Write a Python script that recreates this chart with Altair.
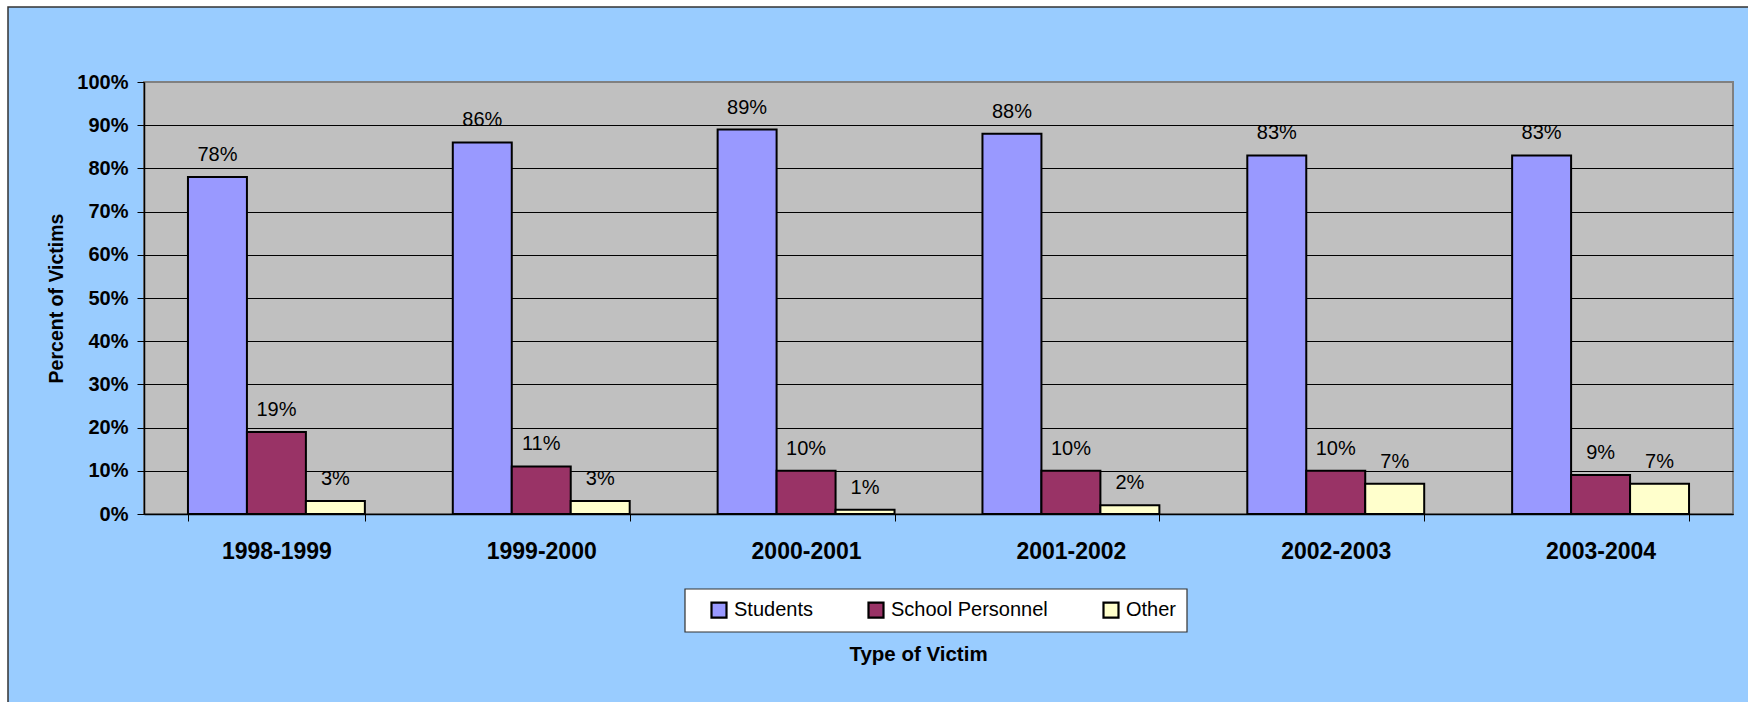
import altair as alt
import pandas as pd

# School years and share of victims by type (percent)
years = ["1998-1999", "1999-2000", "2000-2001", "2001-2002", "2002-2003", "2003-2004"]
series = ["Students", "School Personnel", "Other"]
students = [78, 86, 89, 88, 83, 83]
personnel = [19, 11, 10, 10, 10, 9]
other = [3, 3, 1, 2, 7, 7]
colors = ["#9999FF", "#993366", "#FFFFCC"]
y_ticks = [0, 10, 20, 30, 40, 50, 60, 70, 80, 90, 100]

rows = []
for name, vals in zip(series, [students, personnel, other]):
    for yr, v in zip(years, vals):
        rows.append({"year": yr, "type": name, "pct": v})
df = pd.DataFrame(rows)

FONT = "Liberation Sans, Arial, sans-serif"
W, H = 1589, 432

x_enc = alt.X(
    "year:N",
    sort=years,
    scale=alt.Scale(paddingInner=0.332, paddingOuter=0.166),
    axis=alt.Axis(
        title="Type of Victim",
        labelAngle=0,
        tickBand="extent",
        tickSize=7,
        tickColor="black",
        domainColor="black",
        domainWidth=1.5,
        labelFont=FONT,
        labelFontSize=23,
        labelFontWeight="bold",
        labelColor="black",
        labelPadding=19,
        titleFont=FONT,
        titleFontSize=20.5,
        titleFontWeight="bold",
        titleColor="black",
        titleX=774,
        titleY=146,
        titleBaseline="alphabetic",
        titleAlign="center",
        grid=False,
    ),
)
xoff_enc = alt.XOffset("type:N", sort=series, scale=alt.Scale(paddingInner=0, paddingOuter=0))
y_enc = alt.Y(
    "pct:Q",
    scale=alt.Scale(domain=[0, 100], nice=False),
    axis=alt.Axis(
        values=y_ticks,
        labelExpr="datum.value + '%'",
        grid=True,
        gridColor={"condition": {"test": "datum.value == 100", "value": "#808080"}, "value": "black"},
        gridWidth=1,
        domainColor="black",
        domainWidth=1.5,
        tickColor="black",
        tickSize=7,
        labelFont=FONT,
        labelFontSize=20,
        labelFontWeight="bold",
        labelColor="black",
        labelPadding=9,
        title="Percent of Victims",
        titleFont=FONT,
        titleFontSize=19.5,
        titleFontWeight="bold",
        titleColor="black",
        titleAngle=270,
        titleX=-82,
        titleY=216,
        titleBaseline="alphabetic",
        titleAlign="center",
    ),
)

# Decorative frame: white margin on the top/left edge with a dark outline
one = pd.DataFrame({"k": [0]})
frame_left = alt.Chart(one).mark_rect(fill="white").encode(
    x=alt.value(-144), x2=alt.value(-136), y=alt.value(-82), y2=alt.value(H + 188)
)
frame_top = alt.Chart(one).mark_rect(fill="white").encode(
    x=alt.value(-144), x2=alt.value(W + 15), y=alt.value(-82), y2=alt.value(-75)
)
frame_line = alt.Chart(one).mark_rect(fill="white", fillOpacity=0, stroke="#333333", strokeWidth=1.5).encode(
    x=alt.value(-136), x2=alt.value(W + 40), y=alt.value(-75), y2=alt.value(H + 220)
)
# White box behind the legend entries
legend_box = alt.Chart(one).mark_rect(fill="white", stroke="#333333", strokeWidth=1.2).encode(
    x=alt.value(541), x2=alt.value(1043), y=alt.value(507), y2=alt.value(550)
)

bars = alt.Chart(df).mark_bar(stroke="black", strokeWidth=2).encode(
    x=x_enc,
    xOffset=xoff_enc,
    y=y_enc,
    color=alt.Color(
        "type:N",
        sort=series,
        scale=alt.Scale(domain=series, range=colors),
        legend=alt.Legend(
            orient="none",
            legendX=565,
            legendY=518,
            direction="horizontal",
            title=None,
            symbolType="square",
            symbolSize=225,
            symbolStrokeColor="black",
            symbolStrokeWidth=2.2,
            symbolOpacity=1,
            labelFont=FONT,
            labelFontSize=20,
            labelColor="black",
            labelOffset=5,
            columnPadding=51,
            padding=0,
        ),
    ),
)

labels = alt.Chart(df).mark_text(
    dy=-22, baseline="middle", align="center", font=FONT, fontSize=20, color="black"
).encode(
    x=alt.X("year:N", sort=years),
    xOffset=alt.XOffset("type:N", sort=series),
    y=alt.Y("pct:Q"),
    text=alt.Text("label:N"),
).transform_calculate(label="datum.pct + '%'")

chart = alt.layer(frame_left, frame_top, frame_line, legend_box, bars, labels).properties(
    width=W,
    height=H,
    background="#99CCFF",
    autosize=alt.AutoSizeParams(type="none"),
    padding={"left": 144, "top": 82, "right": 15, "bottom": 188},
).configure_view(fill="#C0C0C0", stroke="#808080", strokeWidth=2)

chart.save("out.html", embed_options={"renderer": "svg", "actions": False})
